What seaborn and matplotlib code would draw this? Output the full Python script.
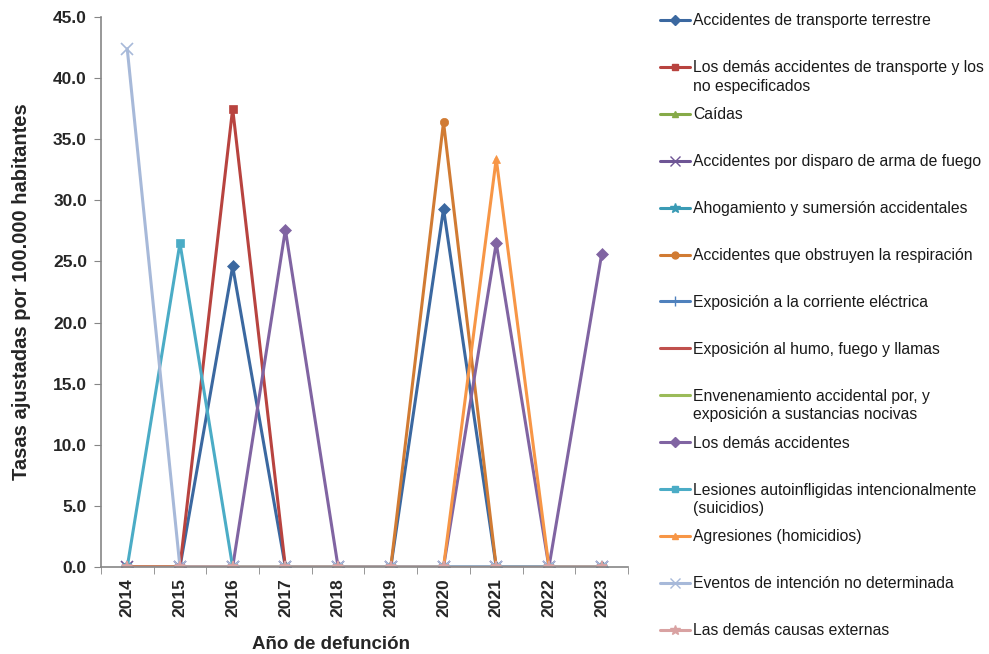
import numpy as np
import pandas as pd
import matplotlib
matplotlib.use("Agg")
import matplotlib.pyplot as plt
from matplotlib.lines import Line2D
import seaborn as sns

# --- data ---
years = ["2014", "2015", "2016", "2017", "2018", "2019", "2020", "2021", "2022", "2023"]

transporte_terrestre = [0, 0, 24.6, 0, 0, 0, 29.3, 0, 0, 0]
demas_transporte = [0, 0, 37.5, 0, 0, 0, 0, 0, 0, 0]
caidas = [0, 0, 0, 0, 0, 0, 0, 0, 0, 0]
arma_fuego = [0, 0, 0, 0, 0, 0, 0, 0, 0, 0]
ahogamiento = [0, 0, 0, 0, 0, 0, 0, 0, 0, 0]
obstruyen_respiracion = [0, 0, 0, 0, 0, 0, 36.4, 0, 0, 0]
corriente_electrica = [0, 0, 0, 0, 0, 0, 0, 0, 0, 0]
humo_fuego = [0, 0, 0, 0, 0, 0, 0, 0, 0, 0]
envenenamiento = [0, 0, 0, 0, 0, 0, 0, 0, 0, 0]
demas_accidentes = [0, 0, 0, 27.6, 0, 0, 0, 26.5, 0, 25.6]
suicidios = [0, 26.5, 0, 0, 0, 0, 0, 0, 0, 0]
homicidios = [0, 0, 0, 0, 0, 0, 0, 33.4, 0, 0]
intencion_no_det = [42.4, 0, 0, 0, 0, 0, 0, 0, 0, 0]
demas_causas = [0, 0, 0, 0, 0, 0, 0, 0, 0, 0]

series = [
    ("Accidentes de transporte terrestre", transporte_terrestre, "#3b68a0", "D"),
    ("Los demás accidentes de transporte y los\nno especificados", demas_transporte, "#b8433f", "s"),
    ("Caídas", caidas, "#86aa48", "^"),
    ("Accidentes por disparo de arma de fuego", arma_fuego, "#6e5595", "x"),
    ("Ahogamiento y sumersión accidentales", ahogamiento, "#3a9bb5", "*"),
    ("Accidentes que obstruyen la respiración", obstruyen_respiracion, "#d17b33", "o"),
    ("Exposición a la corriente eléctrica", corriente_electrica, "#4f81bd", "+"),
    ("Exposición al humo, fuego y llamas", humo_fuego, "#c0504d", None),
    ("Envenenamiento accidental por, y\nexposición a sustancias nocivas", envenenamiento, "#9bbb59", None),
    ("Los demás accidentes", demas_accidentes, "#8064a2", "D"),
    ("Lesiones autoinfligidas intencionalmente\n(suicidios)", suicidios, "#4bacc6", "s"),
    ("Agresiones (homicidios)", homicidios, "#f79646", "^"),
    ("Eventos de intención no determinada", intencion_no_det, "#a7b9d9", "x"),
    ("Las demás causas externas", demas_causas, "#d9a2a2", "*"),
]

sns.set_style("white")
plt.rcParams["font.family"] = ["Liberation Sans", "DejaVu Sans"]

fig = plt.figure(figsize=(9.89, 6.54), dpi=100)
ax = fig.add_axes([0.102, 0.133, 0.533, 0.841])

pos = np.arange(len(years))
for label, vals, color, mk in series:
    df = pd.DataFrame({"pos": pos, "val": vals})
    sns.lineplot(data=df, x="pos", y="val", ax=ax, color=color, lw=2.2,
                 marker=mk, markersize=6 if mk not in ("*", "x", "+") else 8,
                 markeredgecolor=color, markeredgewidth=1.2 if mk in ("x", "+", "*") else 0.5,
                 label=None, legend=False)

ax.set_xlim(-0.5, len(years) - 0.5)
ax.set_ylim(0, 45)
ax.set_yticks(np.arange(0, 45.1, 5))
ax.set_yticklabels([f"{v:.1f}" for v in np.arange(0, 45.1, 5)], fontsize=12.5, fontweight="bold")
ax.set_xticks(pos)
ax.set_xticklabels(years, rotation=90, fontsize=12.5, fontweight="bold")
ax.set_xticks(np.arange(-0.5, len(years)), minor=True)
ax.tick_params(axis="x", which="major", length=0, pad=8)
ax.tick_params(axis="x", which="minor", length=5, color="#868686", direction="out", bottom=True)
ax.tick_params(axis="y", length=5, color="#868686", direction="out", left=True, pad=5)

for side in ("top", "right"):
    ax.spines[side].set_visible(False)
for side in ("left", "bottom"):
    ax.spines[side].set_color("#868686")
    ax.spines[side].set_linewidth(1.2)

ax.set_xlabel("Año de defunción", fontsize=13.5, fontweight="bold")
ax.xaxis.set_label_coords(0.437, -0.125)
ax.set_ylabel("Tasas ajustadas por 100.000 habitantes", fontsize=14.5, fontweight="bold")
ax.yaxis.set_label_coords(-0.133, 0.5)

# legend laid out like the original: evenly spaced entries, first line aligned with handle
W, H = 989, 654
y0, step = 20, 46.9
for i, (label, vals, color, mk) in enumerate(series):
    yy = 1 - (y0 + i * step) / H
    fig.add_artist(Line2D([660 / W, 690 / W], [yy, yy], color=color, lw=2.2,
                          transform=fig.transFigure))
    if mk is not None:
        fig.add_artist(Line2D([675 / W], [yy], color=color, marker=mk,
                              markersize=5 if mk not in ("*", "x", "+") else 7,
                              markeredgewidth=1.0, transform=fig.transFigure))
    fig.text(693 / W, yy + 6.5 / H, label, fontsize=11.3, va="top", ha="left",
             color="#1a1a1a", linespacing=1.3)

fig.savefig("out.png", dpi=100)
